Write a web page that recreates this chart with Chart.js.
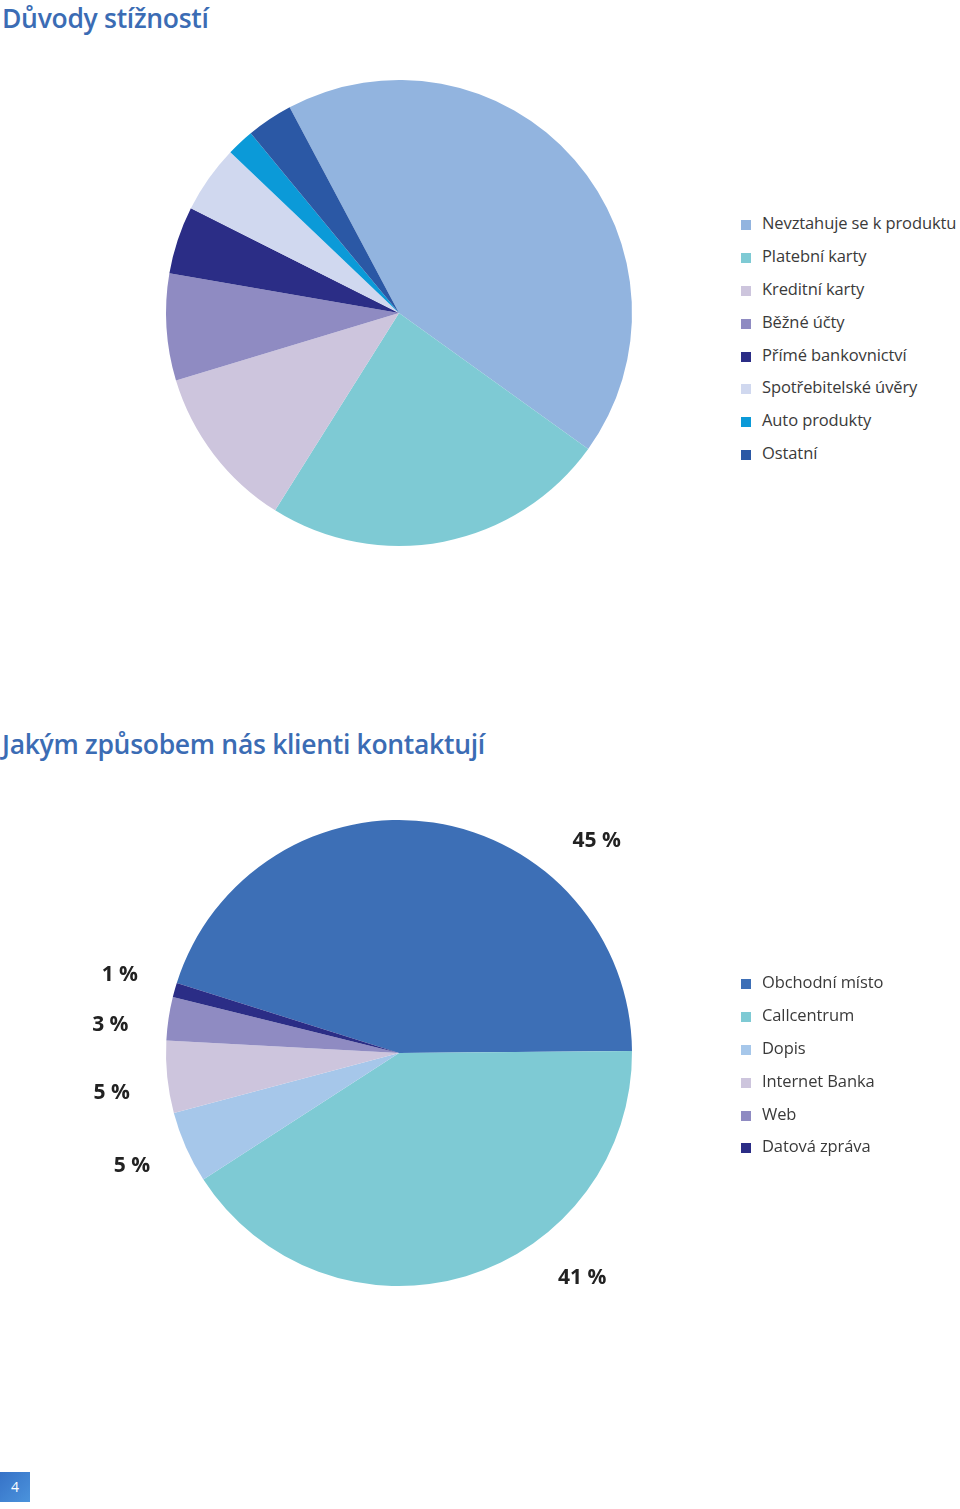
<!DOCTYPE html>
<html lang="cs">
<head>
    <meta charset="UTF-8">
    <title>Důvody stížností</title>
    <script src="https://cdn.jsdelivr.net/npm/chart.js"></script>
    <style>
        body {
            margin: 0;
            width: 960px;
            height: 1509px;
            position: relative;
            background: #fff;
            font-family: "Open Sans", Arial, sans-serif;
            overflow: hidden;
        }
        h2 {
            position: absolute;
            left: 2px;
            margin: 0;
            font-size: 26.5px;
            font-weight: 600;
            color: #3b6cb4;
            line-height: 36px;
            letter-spacing: -0.3px;
        }
        canvas {
            position: absolute;
        }
        .legend {
            position: absolute;
            left: 741px;
            margin: 0;
            padding: 0;
            list-style: none;
        }
        .legend li {
            height: 32.9px;
            line-height: 32.9px;
            font-size: 16.5px;
            letter-spacing: -0.1px;
            color: #3a3a3a;
            white-space: nowrap;
        }
        .legend span {
            display: inline-block;
            width: 10px;
            height: 10px;
            margin-right: 11px;
            vertical-align: -1px;
        }
        #page-num {
            position: absolute;
            left: 0;
            top: 1472px;
            width: 30px;
            height: 30px;
            background: linear-gradient(135deg, #3672c7, #4b93dc);
            color: #fff;
            font-size: 14px;
            line-height: 30px;
            text-align: center;
        }
    </style>
</head>
<body>
    <h2 style="top: 0px;">Důvody stížností</h2>
    <canvas id="reasonsCanvas" width="600" height="600" style="left: 99px; top: 13px;"></canvas>
    <ul class="legend" id="reasonsLegend" style="top: 207px;"></ul>

    <h2 style="top: 726px;">Jakým způsobem nás klienti kontaktují</h2>
    <canvas id="contactCanvas" width="700" height="700" style="left: 49px; top: 703px;"></canvas>
    <ul class="legend" id="contactLegend" style="top: 966px;"></ul>

    <div id="page-num">4</div>

    <script>
        // Důvody stížností (podíl v %)
        const reasonLabels = ['Nevztahuje se k produktu', 'Platební karty', 'Kreditní karty', 'Běžné účty',
            'Přímé bankovnictví', 'Spotřebitelské úvěry', 'Auto produkty', 'Ostatní'];
        const reasonValues = [42.7, 24.0, 11.4, 7.4, 4.7, 4.7, 1.9, 3.2];
        const reasonColors = ['#92b4df', '#7ecad4', '#cdc5dd', '#8f8bc2', '#2b2d86', '#d0d8ef', '#0b9ad8', '#2b58a5'];

        // Jakým způsobem nás klienti kontaktují (%)
        const contactLabels = ['Obchodní místo', 'Callcentrum', 'Dopis', 'Internet Banka', 'Web', 'Datová zpráva'];
        const contactValues = [45, 41, 5, 5, 3, 1];
        const contactColors = ['#3d6fb6', '#7ecad4', '#a6c7ea', '#cdc5dd', '#8f8bc2', '#2b2d86'];

        // small angle nudges (degrees) so the big labels sit like in the print
        const contactLabelShift = [34.5, -22.5, 1, -2, -3, 0];

        // draws "45 %" style labels outside the pie
        const outsideLabels = {
            id: 'outsideLabels',
            afterDatasetsDraw(chart, args, opts) {
                if (!opts.show) return;
                const ctx = chart.ctx;
                const meta = chart.getDatasetMeta(0);
                const values = chart.data.datasets[0].data;
                ctx.save();
                ctx.font = 'bold 21px "Open Sans", Arial, sans-serif';
                ctx.fillStyle = '#222';
                ctx.textAlign = 'center';
                ctx.textBaseline = 'middle';
                meta.data.forEach((arc, i) => {
                    const mid = (arc.startAngle + arc.endAngle) / 2 + (opts.shift[i] || 0) * Math.PI / 180;
                    const x = arc.x + Math.cos(mid) * opts.radius;
                    const y = arc.y + Math.sin(mid) * opts.radius;
                    ctx.fillText(values[i] + ' %', x, y);
                });
                ctx.restore();
            }
        };

        function makePie(canvasId, labels, values, colors, rotation, labelOpts) {
            const ctx = document.getElementById(canvasId).getContext('2d');
            return new Chart(ctx, {
                type: 'pie',
                data: {
                    labels: labels,
                    datasets: [{
                        data: values,
                        backgroundColor: colors,
                        borderWidth: 0
                    }]
                },
                options: {
                    responsive: false,
                    animation: false,
                    rotation: rotation,
                    radius: 233,
                    layout: { padding: 0 },
                    plugins: {
                        legend: { display: false },
                        tooltip: { enabled: false },
                        outsideLabels: labelOpts
                    }
                },
                plugins: [outsideLabels]
            });
        }

        // simple HTML legend built from the same arrays
        function buildLegend(listId, labels, colors) {
            const list = document.getElementById(listId);
            labels.forEach((label, i) => {
                const li = document.createElement('li');
                const box = document.createElement('span');
                box.style.background = colors[i];
                li.appendChild(box);
                li.appendChild(document.createTextNode(label));
                list.appendChild(li);
            });
        }

        makePie('reasonsCanvas', reasonLabels, reasonValues, reasonColors, -28, { show: false });
        makePie('contactCanvas', contactLabels, contactValues, contactColors, -72.5,
            { show: true, radius: 290, shift: contactLabelShift });

        buildLegend('reasonsLegend', reasonLabels, reasonColors);
        buildLegend('contactLegend', contactLabels, contactColors);
    </script>
</body>
</html>
